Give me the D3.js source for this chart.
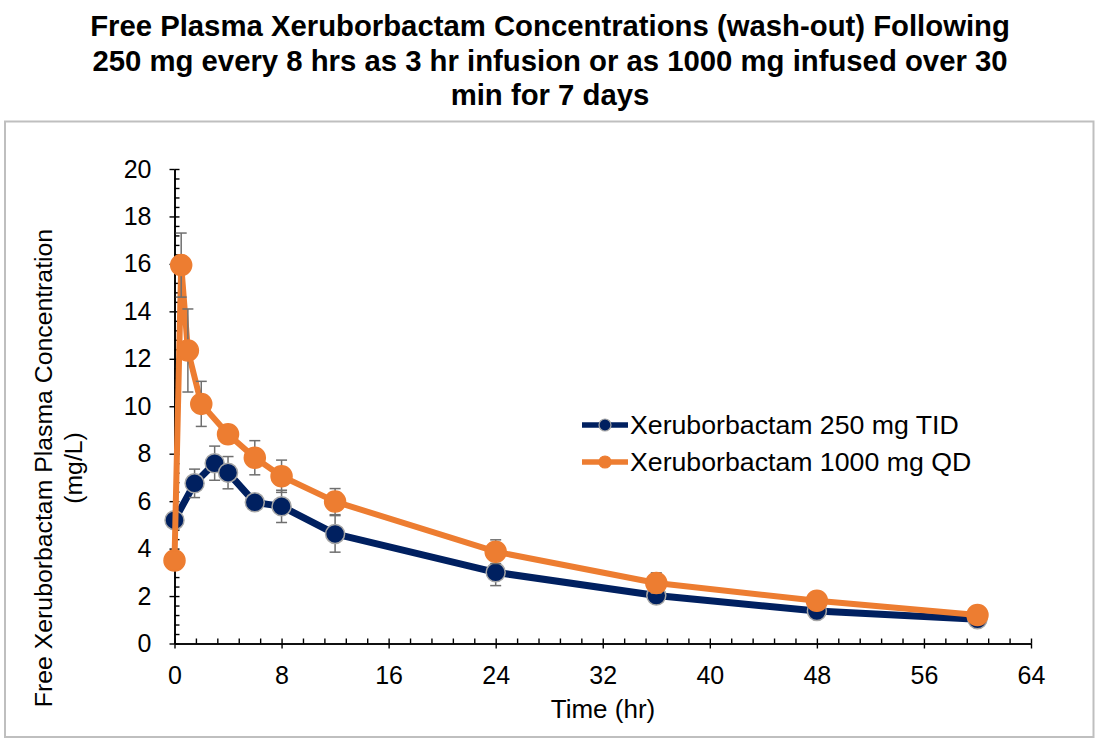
<!DOCTYPE html>
<html>
<head>
<meta charset="utf-8">
<script src="https://cdn.jsdelivr.net/npm/d3@7"></script>
<style>
  html, body { margin: 0; padding: 0; background: #fff; }
  svg { display: block; font-family: "Liberation Sans", Arial, sans-serif; }
</style>
</head>
<body>
<svg id="chart" width="1100" height="750"></svg>
<script>
// ---- data ----
const titleLines = [
  "Free Plasma Xeruborbactam Concentrations (wash-out) Following",
  "250 mg every 8 hrs as 3 hr infusion or as 1000 mg infused over 30",
  "min for 7 days"
];
const seriesNames = ["Xeruborbactam 250 mg TID", "Xeruborbactam 1000 mg QD"];

const timeTID = [0, 1.5, 3, 4, 6, 8, 12, 24, 36, 48, 60];
const concTID = [5.2, 6.75, 7.6, 7.2, 5.95, 5.78, 4.62, 3.0, 2.02, 1.37, 1.02];
const sdTID   = [0.2, 0.6, 0.72, 0.68, 0.3, 0.68, 0.77, 0.56, 0.3, 0.15, 0.12];

const timeQD = [0, 0.5, 1, 2, 4, 6, 8, 12, 24, 36, 48, 60];
const concQD = [3.5, 15.95, 12.35, 10.1, 8.82, 7.83, 7.05, 5.98, 3.87, 2.55, 1.8, 1.2];
const sdQD   = [0.2, 1.35, 1.75, 0.95, 0.3, 0.72, 0.68, 0.55, 0.5, 0.43, 0.2, 0.1];

const xMajorTicks = [0, 8, 16, 24, 32, 40, 48, 56, 64];
const yMajorTicks = [0, 2, 4, 6, 8, 10, 12, 14, 16, 18, 20];
const xMinorStep = 1.6;
const yMinorStep = 0.4;

// ---- layout ----
const svg = d3.select("#chart");
const x = d3.scaleLinear().domain([0, 64]).range([174.5, 1031]);
const y = d3.scaleLinear().domain([0, 20]).range([643.5, 169]);

svg.append("rect").attr("x", 0).attr("y", 0).attr("width", 1100).attr("height", 750).attr("fill", "#fff");

// outer border
svg.append("rect")
  .attr("x", 5).attr("y", 121.5).attr("width", 1088.5).attr("height", 615.5)
  .attr("fill", "none").attr("stroke", "#bfbfbf").attr("stroke-width", 2);

// title
const title = svg.append("text")
  .attr("text-anchor", "middle")
  .attr("font-weight", "bold")
  .attr("font-size", 29.3)
  .attr("fill", "#000");
titleLines.forEach((t, i) => {
  title.append("tspan").attr("x", 550).attr("y", 36 + i * 34.5).text(t);
});

// minor tick arrays
const xMinor = d3.range(0, 64 + 1e-6, xMinorStep).map(v => +v.toFixed(2));
const yMinor = d3.range(0, 20 + 1e-6, yMinorStep).map(v => +v.toFixed(2));

// X axis: labels + major ticks downward
const gx = svg.append("g").attr("transform", `translate(0,${y(0)})`);
gx.call(d3.axisBottom(x).tickValues(xMajorTicks).tickSize(5).tickSizeOuter(0).tickPadding(18).tickFormat(d3.format("d")));
// inside ticks (upward) for all
const gx2 = svg.append("g").attr("transform", `translate(0,${y(0)})`);
gx2.call(d3.axisTop(x).tickValues(xMinor).tickSize(5).tickSizeOuter(0).tickFormat(""));

// Y axis
const gy = svg.append("g").attr("transform", `translate(${x(0)},0)`);
gy.call(d3.axisLeft(y).tickValues(yMajorTicks).tickSize(5).tickSizeOuter(0).tickPadding(18).tickFormat(d3.format("d")));
const gy2 = svg.append("g").attr("transform", `translate(${x(0)},0)`);
gy2.call(d3.axisRight(y).tickValues(yMinor).tickSize(5).tickSizeOuter(0).tickFormat(""));

svg.selectAll(".domain").attr("stroke", "#000").attr("stroke-width", 1.6);
svg.selectAll(".tick line").attr("stroke", "#000").attr("stroke-width", 1.4);
svg.selectAll(".tick text").attr("font-size", 25).attr("fill", "#000")
  .attr("font-family", '"Liberation Sans", Arial, sans-serif');

// axis titles
svg.append("text").attr("x", 603).attr("y", 718).attr("text-anchor", "middle")
  .attr("font-size", 26).attr("fill", "#000").text("Time (hr)");
const yt = svg.append("text").attr("transform", "translate(0,468) rotate(-90)")
  .attr("text-anchor", "middle").attr("font-size", 24.8).attr("fill", "#000");
yt.append("tspan").attr("x", 0).attr("y", 52).text("Free Xeruborbactam Plasma Concentration");
yt.append("tspan").attr("x", 0).attr("y", 82).text("(mg/L)");

// series
const series = [
  { name: seriesNames[0], t: timeTID, c: concTID, sd: sdTID, color: "#002060", lw: 7, r: 9.5, stroke: "#a6a6a6" },
  { name: seriesNames[1], t: timeQD, c: concQD, sd: sdQD, color: "#ED7D31", lw: 6, r: 10.5, stroke: "#ED7D31" }
];

const line = d3.line().x(d => x(d[0])).y(d => y(d[1]));

series.forEach(s => {
  const pts = s.t.map((t, i) => [t, s.c[i], s.sd[i]]);
  const g = svg.append("g");
  g.append("path").datum(pts).attr("d", line)
    .attr("fill", "none").attr("stroke", s.color).attr("stroke-width", s.lw)
    .attr("stroke-linejoin", "round");
  // error bars
  const eb = g.append("g").attr("stroke", "#6f6f6f").attr("stroke-width", 1.5);
  pts.forEach(p => {
    eb.append("line").attr("x1", x(p[0])).attr("x2", x(p[0]))
      .attr("y1", y(p[1] - p[2])).attr("y2", y(p[1] + p[2]));
    [p[1] - p[2], p[1] + p[2]].forEach(v => {
      eb.append("line").attr("x1", x(p[0]) - 5.5).attr("x2", x(p[0]) + 5.5)
        .attr("y1", y(v)).attr("y2", y(v));
    });
  });
  g.selectAll("circle").data(pts).join("circle")
    .attr("cx", d => x(d[0])).attr("cy", d => y(d[1])).attr("r", s.r)
    .attr("fill", s.color).attr("stroke", s.stroke).attr("stroke-width", 1.5);
});

// legend
const legend = svg.append("g");
series.forEach((s, i) => {
  const ly = 425 + i * 37;
  legend.append("line").attr("x1", 582).attr("x2", 628).attr("y1", ly).attr("y2", ly)
    .attr("stroke", s.color).attr("stroke-width", 5.5);
  legend.append("circle").attr("cx", 605).attr("cy", ly).attr("r", 6)
    .attr("fill", s.color).attr("stroke", s.stroke).attr("stroke-width", 1.2);
  legend.append("text").attr("x", 630).attr("y", ly + 9).attr("font-size", 26.7)
    .attr("fill", "#000").text(s.name);
});
</script>
</body>
</html>
